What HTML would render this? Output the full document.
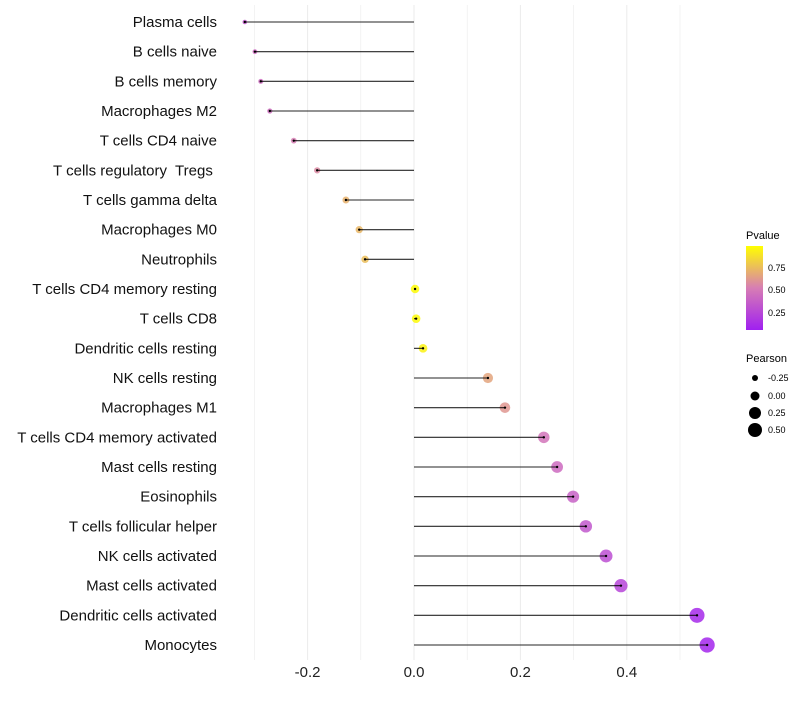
<!DOCTYPE html>
<html><head><meta charset="utf-8"><style>
body{margin:0;background:#fff;font-family:"Liberation Sans",sans-serif}
svg text{font-family:"Liberation Sans",sans-serif}
</style></head><body>
<svg id="chart" width="800" height="700">
<g id="grid"></g><g id="marks"></g><g id="ylabels"></g><g id="xlabels"></g>
<g>
<defs><linearGradient id="pg" x1="0" y1="1" x2="0" y2="0">
<stop offset="0" stop-color="#a020f0"/><stop offset="0.5" stop-color="#d77db4"/><stop offset="1" stop-color="#ffff00"/></linearGradient></defs>
<text x="746" y="239" font-size="11">Pvalue</text>
<rect x="746" y="246" width="17" height="84" fill="url(#pg)"/>
<text x="768" y="271" font-size="9">0.75</text>
<text x="768" y="293" font-size="9">0.50</text>
<text x="768" y="316" font-size="9">0.25</text>
</g>
<g>
<text x="746" y="362" font-size="11">Pearson</text>
<circle cx="755" cy="378" r="3" fill="#000"/>
<circle cx="755" cy="396" r="4.5" fill="#000"/>
<circle cx="755" cy="413" r="6" fill="#000"/>
<circle cx="755" cy="430" r="7" fill="#000"/>
<text x="768" y="381" font-size="9">-0.25</text>
<text x="768" y="399" font-size="9">0.00</text>
<text x="768" y="416" font-size="9">0.25</text>
<text x="768" y="433" font-size="9">0.50</text>
</g>
</svg>
<script>
const categories=["Plasma cells","B cells naive","B cells memory","Macrophages M2","T cells CD4 naive","T cells regulatory  Tregs ","T cells gamma delta","Macrophages M0","Neutrophils","T cells CD4 memory resting","T cells CD8","Dendritic cells resting","NK cells resting","Macrophages M1","T cells CD4 memory activated","Mast cells resting","Eosinophils","T cells follicular helper","NK cells activated","Mast cells activated","Dendritic cells activated","Monocytes"];
const pearson=[-0.318,-0.299,-0.288,-0.271,-0.226,-0.182,-0.128,-0.103,-0.092,0.002,0.004,0.017,0.139,0.171,0.244,0.269,0.299,0.323,0.361,0.389,0.532,0.551];
const pvalues=[0.3,0.4,0.4,0.42,0.5,0.55,0.7,0.72,0.75,0.99,0.98,0.95,0.65,0.6,0.45,0.4,0.35,0.3,0.25,0.2,0.05,0.03];
const xTicks=[-0.2,0.0,0.2,0.4];
const xTickLabels=["-0.2","0.0","0.2","0.4"];
const xMinor=[-0.3,-0.1,0.1,0.3,0.5];
const NS="http://www.w3.org/2000/svg";
const X=v=>414+v*532;
const Y=i=>22+i*(623/(categories.length-1));
const R=v=>2.3+(v+0.32)/0.87*5.3;
function col(p){const s=[[160,32,240],[215,125,180],[255,255,0]];let a,b,t;if(p<0.5){a=s[0];b=s[1];t=p/0.5}else{a=s[1];b=s[2];t=(p-0.5)/0.5}return`rgb(${a.map((c,k)=>Math.round(c+(b[k]-c)*t)).join(",")})`}
function mk(t,at,parent){const e=document.createElementNS(NS,t);for(const k in at)e.setAttribute(k,at[k]);document.getElementById(parent).appendChild(e);return e}
xMinor.concat(xTicks).forEach(v=>{const l=mk("line",{x1:X(v),x2:X(v),y1:5,y2:660,stroke:"#ebebeb","stroke-width":xTicks.includes(v)?1:0.6},"grid");

});
xTicks.forEach((v,i)=>{const t=mk("text",{x:X(v),y:677,"font-size":15,"text-anchor":"middle",fill:"#222"},"xlabels");t.textContent=xTickLabels[i];

});
categories.forEach((c,i)=>{const y=Y(i);
const t=mk("text",{x:217,y:y+5,"font-size":15,"text-anchor":"end",fill:"#111","xml:space":"preserve"},"ylabels");t.style.whiteSpace="pre";t.textContent=c;


const d=mk("circle",{cx:X(pearson[i]),cy:y,r:R(pearson[i]),fill:col(pvalues[i]),"fill-opacity":0.85},"marks");


const l=mk("line",{x1:X(pearson[i]),x2:X(0),y1:y,y2:y,stroke:"#000","stroke-width":1.1,"stroke-opacity":0.85},"marks");


const e=mk("circle",{cx:X(pearson[i]),cy:y,r:1.2,fill:"#000"},"marks");

});
</script>
</body></html>
